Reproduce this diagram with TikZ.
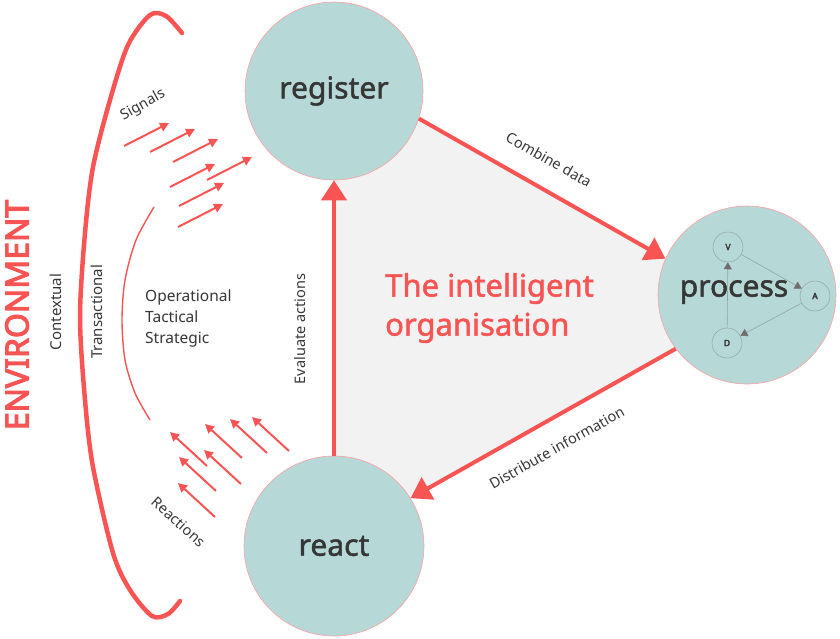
\documentclass[tikz,border=0pt]{standalone}
\usepackage{fontspec}
\setmainfont{Noto Sans}
\newfontfamily\mediumfont[FakeBold=1.6]{Noto Sans}
\newfontfamily\heavyfont[FakeBold=3.5]{Noto Sans}
\usetikzlibrary{arrows.meta}
\definecolor{coral}{HTML}{F95454}
\definecolor{sea}{HTML}{B6D8D7}
\definecolor{ink}{HTML}{363636}
\definecolor{haze}{HTML}{F2F2F2}
\definecolor{slate}{HTML}{8FA7A6}
\definecolor{tipgray}{HTML}{6E6E6E}
\tikzset{
  stage/.style={circle, fill=sea, draw=coral!55, line width=0.6pt, minimum size=178pt,
    inner sep=0pt, text=ink, font=\mediumfont\fontsize{30}{32}\selectfont},
  flow/.style={draw=coral, line width=4pt, -{Triangle[length=20pt,width=25pt]}},
  flowlabel/.style={text=ink, inner sep=1pt, font=\fontsize{14.5}{16}\selectfont},
  cue/.style={draw=coral, line width=2pt, -{Triangle[length=9pt,width=9pt]}},
  mini/.style={circle, draw=slate, line width=0.5pt, minimum size=30pt, inner sep=0pt,
    text=ink, font=\heavyfont\fontsize{8.5}{9}\selectfont},
  miniflow/.style={draw=slate, line width=0.6pt, -{Triangle[length=7pt,width=8pt,color=tipgray]}},
  sidelabel/.style={text=ink, inner sep=0pt, rotate=90, font=\fontsize{15}{18}\selectfont}
}
\begin{document}
\begin{tikzpicture}[x=1pt,y=-1pt]
  \useasboundingbox (0,0) rectangle (840,638);
  \fill[haze] (332,68) -- (751,307) -- (332,542) -- cycle;

  \node[stage] (register) at (334,91)  {register};
  \node[stage, minimum size=180pt] (react) at (334,546) {react};
  \node[stage] (process) at (747,295) {};

  \node[mini] (V) at (728,247) {V};
  \node[mini] (A) at (815,296) {A};
  \node[mini] (D) at (727,343) {D};
  \draw[miniflow] (D) -- (V);
  \draw[miniflow] (V) -- (A);
  \draw[miniflow] (A) -- (D);
  \node[text=ink, font=\mediumfont\fontsize{30}{32}\selectfont] at (734,292) {process};

  \draw[flow] (register.-18) -- (process.156)
    node[flowlabel, pos=.47, sloped, above=20pt] {Combine data};
  \draw[flow] (process.217) -- (react.32)
    node[flowlabel, pos=.5, sloped, below=19pt] {Distribute information};
  \draw[flow] (react.90) -- (register.-90)
    node[flowlabel, pos=.46, sloped, above=25pt] {Evaluate actions};

  \node[text=coral, align=left, inner sep=0pt, anchor=west,
    font=\mediumfont\fontsize{31}{39}\selectfont] (title) at (385,308)
    {The intelligent\\organisation};

  \foreach \x/\y in {124/146, 150/152, 173/162, 170/187, 207/180, 179/206, 178/227}
    \draw[cue] (\x,\y) -- ++(45,-23);
  \foreach \x/\y in {207/466, 242/458, 267/453, 289/451, 216/491, 241/484, 215/517}
    \draw[cue] (\x,\y) -- ++(-37,-34);
  \node[flowlabel, rotate=29] (signals) at (143,105) {Signals};
  \node[flowlabel, rotate=-42] (reactions) at (179,522) {Reactions};

  \draw[coral, line width=4.5pt, line cap=round] plot[smooth] coordinates
    {(182,33) (166,16) (150,15) (128,45) (110,100) (93,167) (85,233) (80,317)
     (85,400) (93,467) (113,553) (130,590) (152,616) (168,614) (180,601)};
  \draw[coral, line width=1.4pt] plot[smooth] coordinates
    {(154,207) (136,240) (125,280) (122,320) (125,360) (135,393) (150,420)};

  \node[sidelabel, text=coral, font=\heavyfont\fontsize{32}{34}\selectfont] (env) at (17,315) {ENVIRONMENT};
  \node[sidelabel] (contextual) at (56,312) {Contextual};
  \node[sidelabel] (transactional) at (97,312) {Transactional};
  \node[text=ink, align=left, inner sep=0pt, font=\fontsize{15.5}{21}\selectfont, anchor=west] (levels) at (145,318)
    {Operational\\Tactical\\Strategic};
\end{tikzpicture}
\end{document}
